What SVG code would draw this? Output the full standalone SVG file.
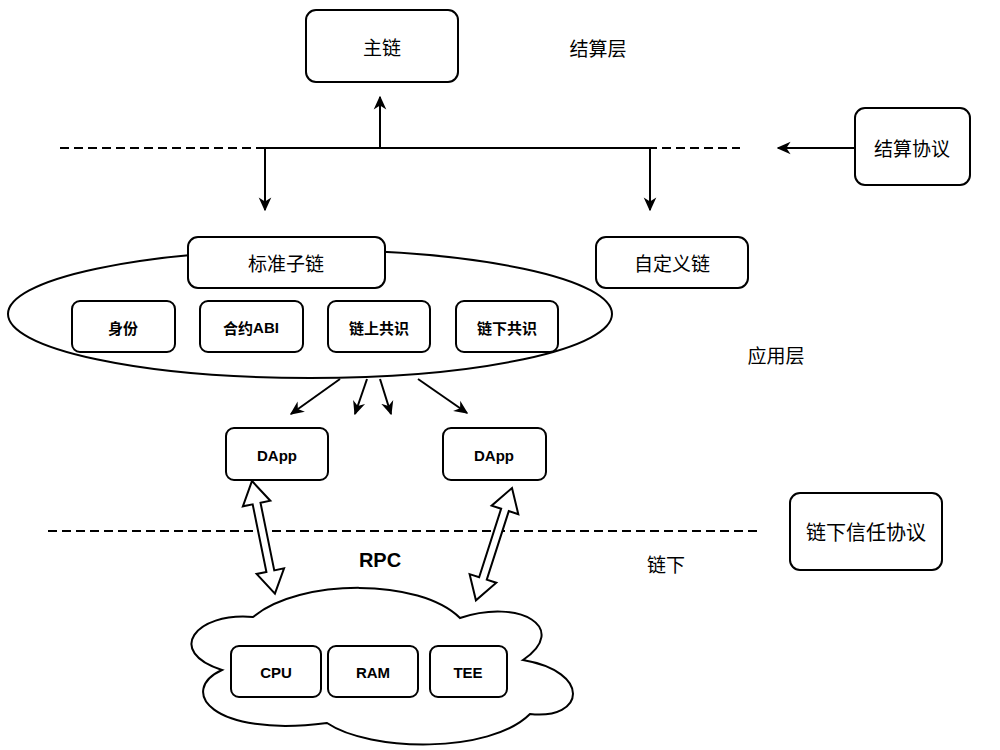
<svg xmlns="http://www.w3.org/2000/svg" width="1000" height="750" viewBox="0 0 1000 750">
<defs>
<marker id="ah" viewBox="0 0 10 10" refX="9" refY="5" markerWidth="14" markerHeight="14" orient="auto" markerUnits="userSpaceOnUse">
<path d="M0,0.5 L10,5 L0,9.5 L3,5 Z" fill="#000"/>
</marker>
<style>
.box{fill:#fff;stroke:#000;stroke-width:2}
.cn{font-family:"Noto Sans CJK SC","Liberation Serif",serif;fill:#000;text-anchor:middle;dominant-baseline:central}
.en{font-family:"Liberation Sans","Noto Sans CJK SC",sans-serif;font-weight:bold;fill:#000;text-anchor:middle;dominant-baseline:central}
.dash{stroke:#000;stroke-width:2;stroke-dasharray:9 5;fill:none}
.ln{stroke:#000;stroke-width:2;fill:none}
.arr{stroke:#000;stroke-width:2;fill:none;marker-end:url(#ah)}
.hollow{fill:#fff;stroke:#000;stroke-width:2;stroke-linejoin:miter}
</style>
</defs>
<rect width="1000" height="750" fill="#fff"/>

<g id="dividers">
<line class="dash" x1="60" y1="148" x2="740" y2="148"/>
<line class="dash" x1="48" y1="531" x2="758" y2="531"/>
</g>

<g id="labels">
<text class="cn" x="598" y="47" font-size="19">结算层</text>
<text class="cn" x="776" y="354" font-size="19">应用层</text>
<text class="cn" x="666" y="563" font-size="19">链下</text>
<text class="en" x="380" y="560" font-size="20">RPC</text>
</g>

<g id="connectors">
<line class="ln" x1="265" y1="148" x2="650" y2="148"/>
<line class="arr" x1="380" y1="148" x2="380" y2="97"/>
<line class="arr" x1="265" y1="148" x2="265" y2="210"/>
<line class="arr" x1="650" y1="148" x2="650" y2="210"/>
<line class="arr" x1="855" y1="148" x2="778" y2="148"/>
<line class="arr" x1="340" y1="379" x2="291" y2="414"/>
<line class="arr" x1="367" y1="379" x2="355" y2="414"/>
<line class="arr" x1="380" y1="379" x2="391" y2="414"/>
<line class="arr" x1="418" y1="379" x2="467" y2="413"/>
<polygon class="hollow" transform="translate(252,481) rotate(78.5)" points="0,0 23,-14 23,-4 92,-4 92,-14 115,0 92,14 92,4 23,4 23,14"/>
<polygon class="hollow" transform="translate(512,488) rotate(107.8)" points="0,0 23,-14 23,-4 95,-4 95,-14 118,0 95,14 95,4 23,4 23,14"/>
</g>

<g id="main-chain">
<rect class="box" x="306" y="10" width="152" height="72" rx="10"/>
<text class="cn" x="382" y="46" font-size="19">主链</text>
</g>

<g id="settle-protocol">
<rect class="box" x="855" y="108" width="115" height="77" rx="10"/>
<text class="cn" x="912" y="147" font-size="19">结算协议</text>
</g>

<g id="subchain-group">
<ellipse class="box" cx="310" cy="314" rx="302" ry="64"/>
</g>

<g id="std-subchain">
<rect class="box" x="188" y="237" width="197" height="51" rx="10"/>
<text class="cn" x="286" y="262" font-size="19">标准子链</text>
</g>

<g id="identity">
<rect class="box" x="72" y="301" width="103" height="51" rx="8"/>
<text class="cn" x="123" y="327" font-size="15" font-weight="bold">身份</text>
</g>
<g id="abi">
<rect class="box" x="200" y="301" width="103" height="51" rx="8"/>
<text class="cn" x="251" y="327" font-size="15" font-weight="bold">合约<tspan font-family="Liberation Sans" font-weight="bold">ABI</tspan></text>
</g>
<g id="onchain-consensus">
<rect class="box" x="328" y="301" width="102" height="51" rx="8"/>
<text class="cn" x="379" y="327" font-size="15" font-weight="bold">链上共识</text>
</g>
<g id="offchain-consensus">
<rect class="box" x="456" y="301" width="102" height="51" rx="8"/>
<text class="cn" x="507" y="327" font-size="15" font-weight="bold">链下共识</text>
</g>

<g id="custom-chain">
<rect class="box" x="596" y="237" width="152" height="51" rx="10"/>
<text class="cn" x="672" y="262" font-size="19">自定义链</text>
</g>

<g id="dapp-left">
<rect class="box" x="226" y="428" width="102" height="52" rx="8"/>
<text class="en" x="277" y="455" font-size="15">DApp</text>
</g>
<g id="dapp-right">
<rect class="box" x="443" y="428" width="103" height="52" rx="8"/>
<text class="en" x="494" y="455" font-size="15">DApp</text>
</g>

<g id="offchain-trust">
<rect class="box" x="790" y="493" width="152" height="77" rx="10"/>
<text class="cn" x="866" y="531" font-size="20">链下信任协议</text>
</g>

<g id="cloud">
<path class="box" d="M253,617 C195,612 165,652 222,670 C178,690 210,738 327,723 C370,752 490,754 530,714 C585,720 592,672 523,660 C570,628 520,598 460,618 C420,578 300,578 253,617 Z"/>
</g>
<g id="cpu">
<rect class="box" x="231" y="646" width="90" height="51" rx="8"/>
<text class="en" x="276" y="672" font-size="15">CPU</text>
</g>
<g id="ram">
<rect class="box" x="328" y="646" width="90" height="51" rx="8"/>
<text class="en" x="373" y="672" font-size="15">RAM</text>
</g>
<g id="tee">
<rect class="box" x="430" y="646" width="77" height="51" rx="8"/>
<text class="en" x="468" y="672" font-size="15">TEE</text>
</g>
</svg>
